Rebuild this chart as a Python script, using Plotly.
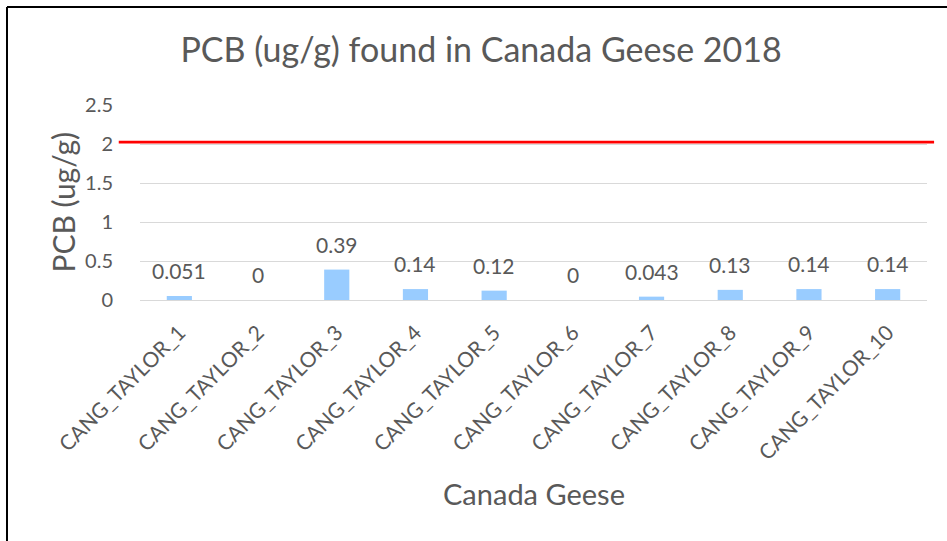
import plotly.graph_objects as go

categories = ["CANG_TAYLOR_1", "CANG_TAYLOR_2", "CANG_TAYLOR_3", "CANG_TAYLOR_4", "CANG_TAYLOR_5",
              "CANG_TAYLOR_6", "CANG_TAYLOR_7", "CANG_TAYLOR_8", "CANG_TAYLOR_9", "CANG_TAYLOR_10"]
pcb_values = [0.051, 0, 0.39, 0.14, 0.12, 0, 0.043, 0.13, 0.14, 0.14]
value_labels = ["0.051", "0", "0.39", "0.14", "0.12", "0", "0.043", "0.13", "0.14", "0.14"]
limit_value = 2.025
y_ticks = [0, 0.5, 1, 1.5, 2, 2.5]
y_tick_labels = ["0", "0.5", "1", "1.5", "2", "2.5"]

FONT = "Lato"
GREY = "#595959"

fig = go.Figure()
fig.add_trace(go.Bar(
    x=categories, y=pcb_values,
    marker=dict(color="#99CCFF", line=dict(width=0)),
    width=0.32, hoverinfo="x+y",
))

annotations = []
for c, v, t in zip(categories, pcb_values, value_labels):
    annotations.append(dict(x=c, y=v, xref="x", yref="y", text=t, showarrow=False,
                            yanchor="bottom", yshift=11,
                            font=dict(family=FONT, size=21, color=GREY)))
annotations.append(dict(x=0.5, y=-0.99, xref="paper", yref="paper", text="Canada Geese",
                        showarrow=False, yanchor="middle", xanchor="center",
                        font=dict(family=FONT, size=29, color=GREY)))
annotations.append(dict(x=-0.099, y=0.5, xref="paper", yref="paper", text="PCB (ug/g)",
                        showarrow=False, textangle=-90, yanchor="middle", xanchor="center",
                        font=dict(family=FONT, size=30, color=GREY)))

shapes = [
    dict(type="line", xref="paper", yref="y", x0=-0.027, x1=1.009, y0=limit_value, y1=limit_value,
         line=dict(color="#FF0000", width=2.7)),
    dict(type="line", xref="paper", yref="paper", x0=-0.169, x1=-0.169, y0=-1.3, y1=1.503,
         line=dict(color="black", width=2)),
    dict(type="line", xref="paper", yref="paper", x0=-0.169, x1=1.1, y0=1.503, y1=1.503,
         line=dict(color="black", width=2)),
]

fig.update_layout(
    template="none",
    width=947, height=541,
    margin=dict(l=140, r=20, t=105, b=241, autoexpand=False),
    paper_bgcolor="white", plot_bgcolor="white",
    showlegend=False,
    title=dict(text="PCB (ug/g) found in Canada Geese 2018", x=0.508, xref="container", xanchor="center",
               y=1 - 50 / 541, yref="container", yanchor="middle",
               font=dict(family=FONT, size=34, color=GREY)),
    xaxis=dict(tickangle=-45, tickfont=dict(family=FONT, size=21, color=GREY), automargin=False,
               showgrid=False, showline=True, linecolor="#d9d9d9", linewidth=1,
               ticks="outside", ticklen=11, tickcolor="rgba(0,0,0,0)", fixedrange=True),
    yaxis=dict(range=[0, 2.5], tickvals=y_ticks, ticktext=y_tick_labels, automargin=False,
               tickfont=dict(family=FONT, size=20, color=GREY),
               showgrid=True, gridcolor="#d9d9d9", gridwidth=1, zeroline=True, zerolinecolor="#d9d9d9",
               showline=False, ticks="outside", ticklen=22, tickcolor="rgba(0,0,0,0)"),
    annotations=annotations,
    shapes=shapes,
    bargap=0.68,
)

fig.write_html("out.html", config={"displayModeBar": False},
               post_script="document.body.style.margin='0px';")
